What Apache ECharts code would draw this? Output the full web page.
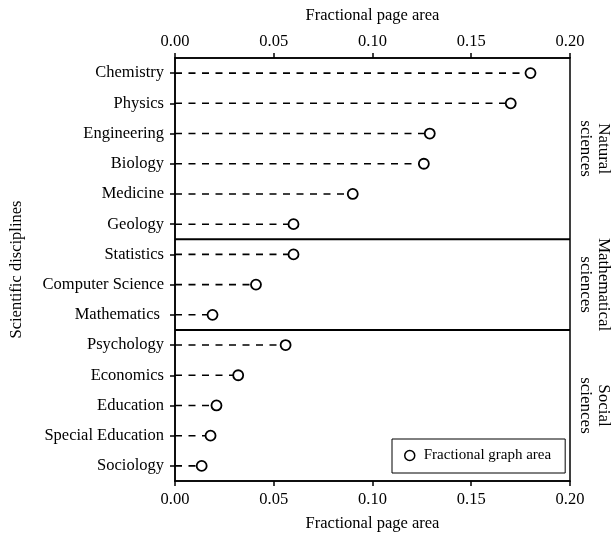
<!DOCTYPE html>
<html>
<head>
<meta charset="utf-8">
<script src="https://cdn.jsdelivr.net/npm/echarts@6/dist/echarts.min.js"></script>
<style>
html,body{margin:0;padding:0;background:#fff;}
#chart{width:613px;height:537px;}
</style>
</head>
<body>
<div id="chart"></div>
<script>
const categories = ['Chemistry','Physics','Engineering','Biology','Medicine','Geology','Statistics','Computer Science','Mathematics ','Psychology','Economics','Education','Special Education','Sociology'];
const pageArea = [0.180,0.170,0.129,0.126,0.090,0.060,0.060,0.041,0.019,0.056,0.032,0.021,0.018,0.0135];
const xTicks = [0, 0.05, 0.10, 0.15, 0.20];
const groupNames = ['Natural\nsciences','Mathematical\nsciences','Social\nsciences'];
const groupSizes = [6, 3, 5];

const FONT = 'Liberation Serif';
const chart = echarts.init(document.getElementById('chart'), null, {renderer:'canvas'});

const groupData = [];
let s = 0;
groupSizes.forEach((n, i) => { groupData.push([s, s + n - 1, i]); s += n; });

const xAxisCommon = {
  type: 'value', min: xTicks[0], max: xTicks[xTicks.length-1], interval: 0.05,
  name: 'Fractional page area', nameLocation: 'middle',
  nameTextStyle: {fontFamily: FONT, fontSize: 16.5, color: '#000'},
  axisLine: {show: true, lineStyle: {color: '#000', width: 1.5}},
  axisTick: {show: true, inside: false, length: 5, lineStyle: {color: '#000', width: 1.5}},
  axisLabel: {fontFamily: FONT, fontSize: 16.5, color: '#000', formatter: v => v.toFixed(2)},
  splitLine: {show: false}
};

chart.setOption({
  animation: false,
  backgroundColor: '#fff',
  grid: {left: 174, right: 43, top: 58, bottom: 54, show: true, borderColor: '#000', borderWidth: 1.5, containLabel: false},
  xAxis: [
    Object.assign({}, xAxisCommon, {position: 'top', nameGap: 34, axisLabel: Object.assign({}, xAxisCommon.axisLabel, {margin: 8})}),
    Object.assign({}, xAxisCommon, {position: 'bottom', nameGap: 34, axisLabel: Object.assign({}, xAxisCommon.axisLabel, {margin: 10})})
  ],
  yAxis: {
    type: 'category', data: categories, inverse: true,
    name: 'Scientific disciplines', nameLocation: 'middle', nameRotate: 90, nameGap: 150,
    nameTextStyle: {fontFamily: FONT, fontSize: 16.5, color: '#000'},
    axisLine: {show: true, lineStyle: {color: '#000', width: 1.5}},
    axisTick: {show: true, alignWithLabel: true, length: 5, lineStyle: {color: '#000', width: 1.5}},
    axisLabel: {fontFamily: FONT, fontSize: 16.5, color: '#000', margin: 11},
    splitLine: {show: false}
  },
  legend: {
    data: [{name: 'Fractional graph area', icon: 'circle', itemStyle: {color: '#fff', borderColor: '#000', borderWidth: 1.5}}],
    left: 392, top: 439,
    padding: [9, 14, 10, 12],
    borderColor: '#000', borderWidth: 1, backgroundColor: '#fff',
    itemWidth: 10, itemHeight: 10, itemGap: 8,
    textStyle: {fontFamily: FONT, fontSize: 15, color: '#000', padding: [0, 0, 0, 4]}
  },
  series: [
    {
      type: 'custom', name: 'stems', silent: true,
      data: pageArea.map((v, i) => [v, i]),
      encode: {x: 0, y: 1},
      renderItem: function (params, api) {
        const a = api.coord([0, api.value(1)]);
        const b = api.coord([api.value(0), api.value(1)]);
        return {type: 'line', shape: {x1: a[0], y1: a[1], x2: b[0], y2: b[1]},
          style: {stroke: '#000', lineWidth: 1.6, lineDash: [7, 6.5]}};
      },
      z: 2
    },
    {
      type: 'custom', name: 'groups', silent: true,
      data: groupData,
      encode: {y: [0, 1]},
      renderItem: function (params, api) {
        const st = api.value(0), en = api.value(1), gi = api.value(2);
        const top = st > 0 ? (api.coord([0, st - 1])[1] + api.coord([0, st])[1]) / 2 : api.coord([0, st])[1] - api.size([0, 1])[1] / 2;
        const bot = api.coord([0, en])[1] + api.size([0, 1])[1] / 2;
        const xl = api.coord([xTicks[0], st])[0];
        const xr = api.coord([xTicks[xTicks.length-1], st])[0];
        const children = [];
        if (st > 0) {
          children.push({type: 'line', shape: {x1: xl, y1: top, x2: xr, y2: top}, style: {stroke: '#000', lineWidth: 2}});
        }
        children.push({type: 'text', x: xr + 24, y: (top + bot) / 2, rotation: -Math.PI / 2,
          style: {text: groupNames[gi], fill: '#000', font: '17px "' + FONT + '"', align: 'center', verticalAlign: 'middle', lineHeight: 18}});
        return {type: 'group', children: children};
      },
      z: 3
    },
    {
      type: 'scatter', name: 'Fractional graph area',
      data: pageArea.map((v, i) => [v, categories[i]]),
      symbol: 'circle', symbolSize: 10,
      itemStyle: {color: '#fff', borderColor: '#000', borderWidth: 1.8, opacity: 1},
      z: 5
    }
  ]
});
</script>
</body>
</html>
